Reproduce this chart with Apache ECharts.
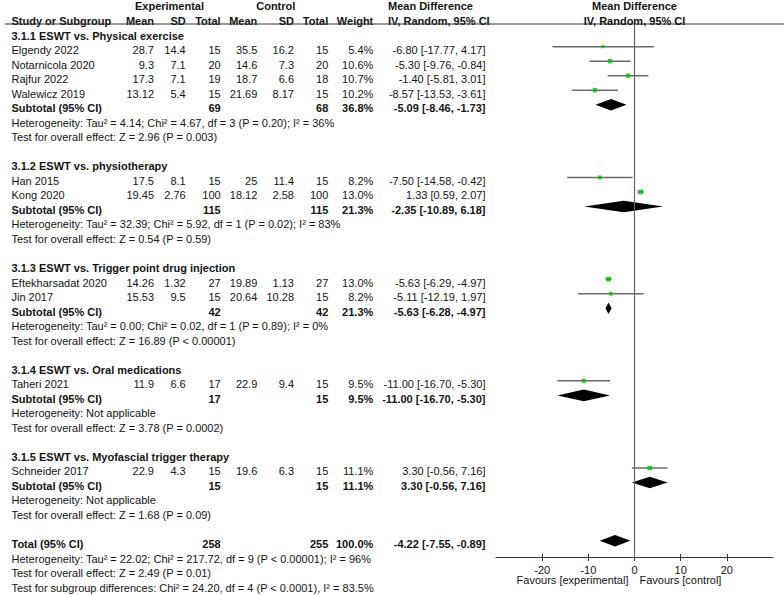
<!DOCTYPE html>
<html>
<head>
<meta charset="utf-8">
<script src="https://cdn.jsdelivr.net/npm/echarts@6/dist/echarts.min.js"></script>
<style>
html,body{margin:0;padding:0;background:#fff;}
#chart{width:784px;height:595px;}
</style>
</head>
<body>
<div id="chart"></div>
<script>
// ---------- data ----------
var groupTitles = ["3.1.1 ESWT vs. Physical exercise", "3.1.2 ESWT vs. physiotherapy", "3.1.3 ESWT vs. Trigger point drug injection", "3.1.4 ESWT vs. Oral medications", "3.1.5 ESWT vs. Myofascial trigger therapy"];
var studyGroup = [0, 0, 0, 0, 1, 1, 2, 2, 3, 4];
var studyNames = ["Elgendy 2022", "Notarnicola 2020", "Rajfur 2022", "Walewicz 2019", "Han 2015", "Kong 2020", "Eftekharsadat 2020", "Jin 2017", "Taheri 2021", "Schneider 2017"];
var expMean = [28.7, 9.3, 17.3, 13.12, 17.5, 19.45, 14.26, 15.53, 11.9, 22.9];
var expSD = [14.4, 7.1, 7.1, 5.4, 8.1, 2.76, 1.32, 9.5, 6.6, 4.3];
var expN = [15, 20, 19, 15, 15, 100, 27, 15, 17, 15];
var ctrlMean = [35.5, 14.6, 18.7, 21.69, 25, 18.12, 19.89, 20.64, 22.9, 19.6];
var ctrlSD = [16.2, 7.3, 6.6, 8.17, 11.4, 2.58, 1.13, 10.28, 9.4, 6.3];
var ctrlN = [15, 20, 18, 15, 15, 100, 27, 15, 15, 15];
var weight = [5.4, 10.6, 10.7, 10.2, 8.2, 13.0, 13.0, 8.2, 9.5, 11.1];
var md = [-6.80, -5.30, -1.40, -8.57, -7.50, 1.33, -5.63, -5.11, -11.00, 3.30];
var ciLow = [-17.77, -9.76, -5.81, -13.53, -14.58, 0.59, -6.29, -12.19, -16.70, -0.56];
var ciHigh = [4.17, -0.84, 3.01, -3.61, -0.42, 2.07, -4.97, 1.97, -5.30, 7.16];

var subExpN = [69, 115, 42, 17, 15];
var subCtrlN = [68, 115, 42, 15, 15];
var subWeight = [36.8, 21.3, 21.3, 9.5, 11.1];
var subMD = [-5.09, -2.35, -5.63, -11.00, 3.30];
var subLow = [-8.46, -10.89, -6.28, -16.70, -0.56];
var subHigh = [-1.73, 6.18, -4.97, -5.30, 7.16];
var subHet = [
  "Heterogeneity: Tau\u00b2 = 4.14; Chi\u00b2 = 4.67, df = 3 (P = 0.20); I\u00b2 = 36%",
  "Heterogeneity: Tau\u00b2 = 32.39; Chi\u00b2 = 5.92, df = 1 (P = 0.02); I\u00b2 = 83%",
  "Heterogeneity: Tau\u00b2 = 0.00; Chi\u00b2 = 0.02, df = 1 (P = 0.89); I\u00b2 = 0%",
  "Heterogeneity: Not applicable",
  "Heterogeneity: Not applicable"
];
var subEffect = [
  "Test for overall effect: Z = 2.96 (P = 0.003)",
  "Test for overall effect: Z = 0.54 (P = 0.59)",
  "Test for overall effect: Z = 16.89 (P < 0.00001)",
  "Test for overall effect: Z = 3.78 (P = 0.0002)",
  "Test for overall effect: Z = 1.68 (P = 0.09)"
];
var totalExpN = 258, totalCtrlN = 255, totalWeight = 100.0;
var totalMD = -4.22, totalLow = -7.55, totalHigh = -0.89;
var totalNotes = [
  "Heterogeneity: Tau\u00b2 = 22.02; Chi\u00b2 = 217.72, df = 9 (P < 0.00001); I\u00b2 = 96%",
  "Test for overall effect: Z = 2.49 (P = 0.01)",
  "Test for subgroup differences: Chi\u00b2 = 24.20, df = 4 (P < 0.0001), I\u00b2 = 83.5%"
];
var xTickValues = [-20, -10, 0, 10, 20];
var favourLabels = ["Favours [experimental]", "Favours [control]"];

// ---------- layout ----------
var ROW0 = 17.6, ROWH = 14.53, TEXT_SHIFT = 3.4;
var GRID_TOP = 24, AXIS_Y = 557, GRID_LEFT = 496, GRID_RIGHT = 11;
var FONT = "'Liberation Sans', Arial, Helvetica, sans-serif";
var FS = 11, TXT = '#141414';
var COL = {name: 11.5, eMean: 154, eSD: 185.7, eN: 220.7, cMean: 257.3, cSD: 294, cN: 328.3, w: 373.3, md: 485.5, mdHead: 388};

function fmtCI(m, l, h) { return m.toFixed(2) + ' [' + l.toFixed(2) + ', ' + h.toFixed(2) + ']'; }
function fmtW(w) { return w.toFixed(1) + '%'; }

// build rows
var textItems = [];   // {r, x, text, align, bold}
var studyPts = [];    // [md, row, weight, lo, hi]
var diamonds = [];    // [lo, md, hi, row]
function T(r, x, text, align, bold) { textItems.push({r: r, x: x, text: String(text), align: align || 'right', bold: !!bold}); }

T(-1, 169.5, 'Experimental', 'center', true);
T(-1, 275.8, 'Control', 'center', true);
T(-1, COL.mdHead, 'Mean Difference', 'left', true);
T(0, COL.name, 'Study or Subgroup', 'left', true);
T(0, COL.eMean, 'Mean', 'right', true);
T(0, COL.eSD, 'SD', 'right', true);
T(0, COL.eN, 'Total', 'right', true);
T(0, COL.cMean, 'Mean', 'right', true);
T(0, COL.cSD, 'SD', 'right', true);
T(0, COL.cN, 'Total', 'right', true);
T(0, COL.w, 'Weight', 'right', true);
T(0, COL.mdHead, 'IV, Random, 95% CI', 'left', true);

var r = 1;
for (var g = 0; g < groupTitles.length; g++) {
  T(r, COL.name, groupTitles[g], 'left', true); r++;
  for (var i = 0; i < studyNames.length; i++) {
    if (studyGroup[i] !== g) continue;
    T(r, COL.name, studyNames[i], 'left');
    T(r, COL.eMean, expMean[i]); T(r, COL.eSD, expSD[i]); T(r, COL.eN, expN[i]);
    T(r, COL.cMean, ctrlMean[i]); T(r, COL.cSD, ctrlSD[i]); T(r, COL.cN, ctrlN[i]);
    T(r, COL.w, fmtW(weight[i]));
    T(r, COL.md, fmtCI(md[i], ciLow[i], ciHigh[i]));
    studyPts.push([md[i], r, weight[i], ciLow[i], ciHigh[i]]);
    r++;
  }
  T(r, COL.name, 'Subtotal (95% CI)', 'left', true);
  T(r, COL.eN, subExpN[g], 'right', true); T(r, COL.cN, subCtrlN[g], 'right', true);
  T(r, COL.w, fmtW(subWeight[g]), 'right', true);
  T(r, COL.md, fmtCI(subMD[g], subLow[g], subHigh[g]), 'right', true);
  diamonds.push([subLow[g], subMD[g], subHigh[g], r]);
  r++;
  T(r, COL.name, subHet[g], 'left'); r++;
  T(r, COL.name, subEffect[g], 'left'); r++;
  r++; // blank row
}
T(r, COL.name, 'Total (95% CI)', 'left', true);
T(r, COL.eN, totalExpN, 'right', true); T(r, COL.cN, totalCtrlN, 'right', true);
T(r, COL.w, fmtW(totalWeight), 'right', true);
T(r, COL.md, fmtCI(totalMD, totalLow, totalHigh), 'right', true);
diamonds.push([totalLow, totalMD, totalHigh, r]);
r++;
for (var k = 0; k < totalNotes.length; k++) { T(r, COL.name, totalNotes[k], 'left'); r++; }

var yMin = (GRID_TOP - ROW0) / ROWH;
var yMax = (AXIS_Y - ROW0) / ROWH;

var chart = echarts.init(document.getElementById('chart'), null, {renderer: 'svg'});

var graphics = textItems.map(function (t) {
  return {
    type: 'text', silent: true,
    style: {
      x: t.x, y: ROW0 + TEXT_SHIFT + ROWH * t.r,
      text: t.text, fill: TXT,
      font: (t.bold ? 'bold ' : '') + FS + 'px ' + FONT,
      align: t.align, verticalAlign: 'middle'
    }
  };
});
graphics.push({type: 'line', silent: true, shape: {x1: 5, y1: GRID_TOP, x2: 784, y2: GRID_TOP}, style: {stroke: '#333', lineWidth: 1}});

var option = {
  animation: false,
  backgroundColor: '#fff',
  grid: {left: GRID_LEFT, right: GRID_RIGHT, top: GRID_TOP, height: AXIS_Y - GRID_TOP, containLabel: false},
  xAxis: [{
    type: 'value', min: -30, max: 30, interval: 10, position: 'bottom',
    splitLine: {show: false},
    axisLine: {show: true, onZero: false, lineStyle: {color: '#333', width: 1}},
    axisTick: {show: true, length: 4, customValues: xTickValues, lineStyle: {color: '#333'}},
    axisLabel: {show: true, customValues: xTickValues, margin: 7, fontSize: FS, fontFamily: FONT, color: TXT}
  }, {
    type: 'value', min: -30, max: 30, interval: 10, position: 'bottom', offset: 0,
    splitLine: {show: false},
    axisLine: {show: false, onZero: false},
    axisTick: {show: true, inside: true, length: 3, customValues: xTickValues, lineStyle: {color: '#333'}},
    axisLabel: {show: false}
  }],
  yAxis: {type: 'value', inverse: true, min: yMin, max: yMax, show: false},
  graphic: graphics,
  series: [
    {
      type: 'custom', name: 'CI', coordinateSystem: 'cartesian2d', silent: true,
      data: studyPts.map(function (p) { return [p[3], p[4], p[1]]; }),
      encode: {x: [0, 1], y: 2},
      renderItem: function (params, api) {
        var a = api.coord([api.value(0), api.value(2)]);
        var b = api.coord([api.value(1), api.value(2)]);
        return {type: 'line', shape: {x1: a[0], y1: a[1], x2: b[0], y2: b[1]}, style: {stroke: '#6a6a6a', lineWidth: 1.5}};
      },
      markLine: {
        silent: true, symbol: 'none', label: {show: false},
        lineStyle: {color: '#666', width: 1.2, type: 'solid'},
        data: [{xAxis: 0}]
      },
      z: 2
    },
    {
      type: 'scatter', name: 'Study', silent: true,
      symbol: 'rect',
      data: studyPts.map(function (p) { return [p[0], p[1], p[2]]; }),
      symbolSize: function (v) { return 1.35 * Math.sqrt(v[2]); },
      itemStyle: {color: '#00c400'},
      z: 3
    },
    {
      type: 'custom', name: 'Pooled', silent: true,
      data: diamonds,
      encode: {x: [0, 1, 2], y: 3},
      renderItem: function (params, api) {
        var row = api.value(3);
        var pl = api.coord([api.value(0), row]);
        var pm = api.coord([api.value(1), row]);
        var ph = api.coord([api.value(2), row]);
        var hh = 5.8;
        return {type: 'polygon', shape: {points: [[pl[0], pl[1]], [pm[0], pm[1] - hh], [ph[0], ph[1]], [pm[0], pm[1] + hh]]}, style: {fill: '#000'}};
      },
      z: 4
    }
  ]
};
chart.setOption(option);

// headers and labels placed relative to axis zero
var zeroX = chart.convertToPixel({xAxisIndex: 0}, 0);
var extra = [
  {type: 'text', silent: true, style: {x: zeroX, y: ROW0 + TEXT_SHIFT - ROWH, text: 'Mean Difference', font: 'bold ' + FS + 'px ' + FONT, fill: TXT, align: 'center', verticalAlign: 'middle'}},
  {type: 'text', silent: true, style: {x: zeroX, y: ROW0 + TEXT_SHIFT, text: 'IV, Random, 95% CI', font: 'bold ' + FS + 'px ' + FONT, fill: TXT, align: 'center', verticalAlign: 'middle'}},
  {type: 'text', silent: true, style: {x: zeroX - 6, y: 580, text: favourLabels[0], font: FS + 'px ' + FONT, fill: TXT, align: 'right', verticalAlign: 'middle'}},
  {type: 'text', silent: true, style: {x: zeroX + 5, y: 580, text: favourLabels[1], font: FS + 'px ' + FONT, fill: TXT, align: 'left', verticalAlign: 'middle'}}
];
chart.setOption({graphic: graphics.concat(extra)});
</script>
</body>
</html>
